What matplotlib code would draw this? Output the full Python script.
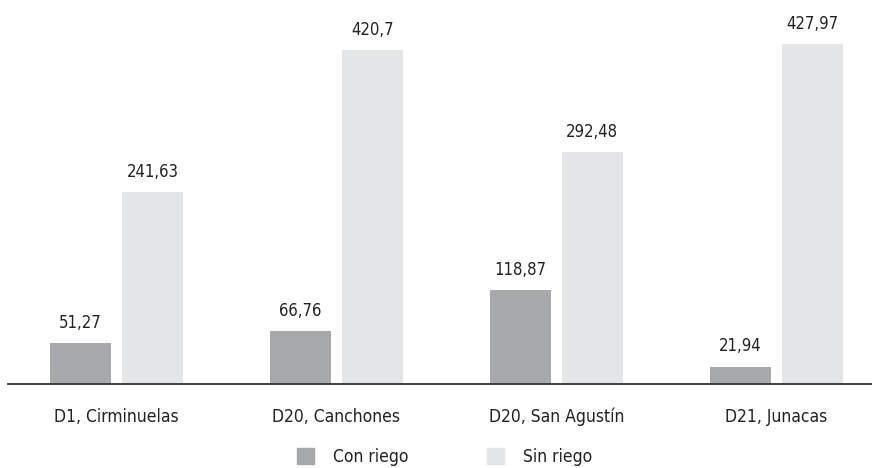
import matplotlib
matplotlib.use('Agg')
import matplotlib.pyplot as plt
from matplotlib.patches import Patch
import numpy as np

plt.rcParams['font.family'] = ['DejaVu Sans']
plt.rcParams['font.stretch'] = 'condensed'

categories = ['D1, Cirminuelas', 'D20, Canchones', 'D20, San Agustín', 'D21, Junacas']
con_riego = [51.27, 66.76, 118.87, 21.94]
sin_riego = [241.63, 420.7, 292.48, 427.97]
series_names = ['Con riego', 'Sin riego']

col_con = '#a7a8aa'
col_sin = '#e4e5e7'

fig = plt.figure(figsize=(8.72, 4.68), dpi=100)
ax = fig.add_axes([8 / 872, 1 - 384 / 468, 864 / 872, 384 / 468])

x = np.arange(len(categories))
w = 0.277
off = 0.1636
b1 = ax.bar(x - off, con_riego, w, color=col_con)
b2 = ax.bar(x + off, sin_riego, w, color=col_sin)


def fmt(v):
    s = ('%.2f' % v).rstrip('0').rstrip('.')
    return s.replace('.', ',')


for bars, vals in ((b1, con_riego), (b2, sin_riego)):
    for rect, v in zip(bars, vals):
        ax.annotate(fmt(v), (rect.get_x() + rect.get_width() / 2, v),
                    xytext=(0, 8), textcoords='offset points',
                    ha='center', va='bottom', fontsize=12, color='#222222')

ax.set_xlim(-0.493, 3.436)
ax.set_ylim(0, 484)
for s in ['top', 'right', 'left']:
    ax.spines[s].set_visible(False)
ax.spines['bottom'].set_color('#333333')
ax.spines['bottom'].set_linewidth(1.3)
ax.set_yticks([])
ax.set_xticks(x)
ax.set_xticklabels(categories, fontsize=12.5, color='#222222')
ax.tick_params(axis='x', length=0, pad=17)

handles = [Patch(color=col_con), Patch(color=col_sin)]
fig.legend(handles, series_names, loc='center', bbox_to_anchor=(0.51, 1 - 457 / 468),
           ncol=2, frameon=False, fontsize=12.5, handlelength=1.0, handleheight=1.0,
           columnspacing=4.5, handletextpad=1.1, labelcolor='#222222')

fig.savefig('out.png', dpi=100)
